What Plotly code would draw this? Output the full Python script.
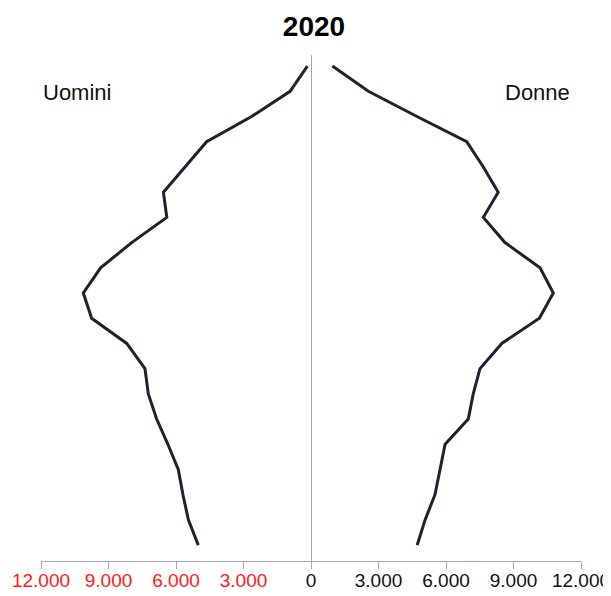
import plotly.graph_objects as go

# fasce d'età dal basso verso l'alto
eta = ['0-4', '5-9', '10-14', '15-19', '20-24', '25-29', '30-34', '35-39',
       '40-44', '45-49', '50-54', '55-59', '60-64', '65-69', '70-74',
       '75-79', '80-84', '85-89', '90-94', '95+']
uomini = [5010, 5450, 5690, 5900, 6360, 6860, 7230, 7380, 8190, 9750,
          10120, 9350, 7970, 6410, 6560, 5600, 4640, 2640, 930, 160]
donne = [4720, 5070, 5510, 5730, 5960, 6990, 7210, 7510, 8480, 10150,
         10770, 10180, 8620, 7660, 8320, 7660, 6920, 4710, 2550, 950]

tick_vals = [-12000, -9000, -6000, -3000, 0, 3000, 6000, 9000, 12000]
tick_text = ['12.000', '9.000', '6.000', '3.000', '0',
             '3.000', '6.000', '9.000', '12.000']
tick_text = [f"<span style='color:#ff1a1a'>{t}</span>" if v < 0 else t
             for v, t in zip(tick_vals, tick_text)]

line_col = '#1c222e'

# la pagina html ha 8px di margine sul body: la figura è più piccola di 8px
W, H = 603, 588

fig = go.Figure()
fig.add_trace(go.Scatter(x=[-v for v in uomini], y=eta, mode='lines',
                         line=dict(color=line_col, width=3),
                         name='Uomini'))
fig.add_trace(go.Scatter(x=donne, y=eta, mode='lines',
                         line=dict(color=line_col, width=3),
                         name='Donne'))

fig.add_annotation(text='Uomini', x=-10380, y=0.955, xref='x', yref='paper',
                   showarrow=False, font=dict(size=22, color='#111'))
fig.add_annotation(text='Donne', x=10070, y=0.955, xref='x', yref='paper',
                   showarrow=False, font=dict(size=22, color='#111'))

fig.update_layout(width=W, height=H,
                  margin=dict(l=33, r=30, t=47, b=35, autoexpand=False),
                  paper_bgcolor='white', plot_bgcolor='white',
                  showlegend=False,
                  font=dict(family='Liberation Sans, Arial', color='#111'),
                  title=dict(text='<b>2020</b>', x=306 / W, xref='container',
                             y=1 - 18 / H, yanchor='middle', xanchor='center',
                             automargin=False,
                             font=dict(size=28, color='#000')))
fig.update_xaxes(range=[-12000, 12000], tickvals=tick_vals, ticktext=tick_text,
                 showgrid=False, showline=True, linecolor='#a6a6a6',
                 linewidth=1, ticks='outside', ticklen=7, tickcolor='#a6a6a6',
                 zeroline=True, zerolinecolor='#a6a6a6', zerolinewidth=1,
                 automargin=False, ticklabeloverflow='allow',
                 ticklabelstandoff=-5,
                 tickfont=dict(size=19, color='#111'))
fig.update_yaxes(type='category', range=[-0.63, 19.44], visible=False,
                 showgrid=False)

fig.write_html("out.html")
